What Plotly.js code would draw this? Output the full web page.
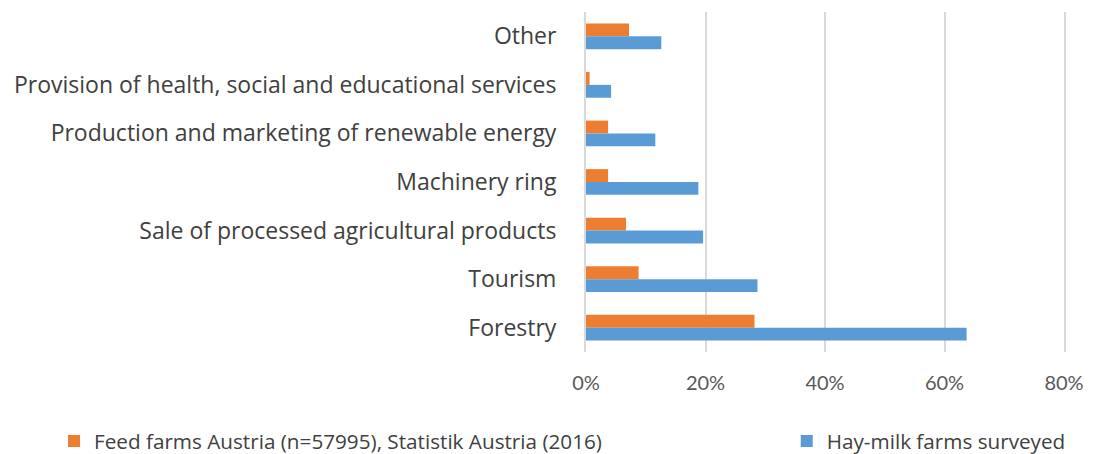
<!DOCTYPE html>
<html>
<head>
<meta charset="utf-8">
<script src="https://cdn.plot.ly/plotly-3.0.1.min.js"></script>
<style>html,body{margin:0;padding:0;background:#fff;}#chart{width:1093px;height:454px;}</style>
</head>
<body>
<div id="chart"></div>
<script>
const categories = [
  "Other",
  "Provision of health, social and educational services",
  "Production and marketing of renewable energy",
  "Machinery ring",
  "Sale of processed agricultural products",
  "Tourism",
  "Forestry"
];
const feedFarmsAustria = [0.072, 0.006, 0.037, 0.037, 0.067, 0.088, 0.282];
const hayMilkFarms = [0.126, 0.042, 0.116, 0.188, 0.196, 0.287, 0.637];
const seriesNames = ["Feed farms Austria (n=57995), Statistik Austria (2016)", "Hay-milk farms surveyed"];
const tickValues = [0, 0.2, 0.4, 0.6, 0.8];
const tickLabels = ["0%", "20%", "40%", "60%", "80%"];

const traces = [
  {type: "bar", orientation: "h", name: seriesNames[0], y: categories, x: feedFarmsAustria,
   marker: {color: "#ED7D31"}, legend: "legend", hoverinfo: "x+y"},
  {type: "bar", orientation: "h", name: seriesNames[1], y: categories, x: hayMilkFarms,
   marker: {color: "#5B9BD5"}, legend: "legend2", hoverinfo: "x+y"}
];

const layout = {
  width: 1093, height: 454,
  margin: {l: 586, r: 29, t: 12, b: 102, autoexpand: false},
  paper_bgcolor: "#fff", plot_bgcolor: "#fff",
  font: {family: "'Open Sans', sans-serif", color: "#404040"},
  barmode: "group", bargap: 0.47, bargroupgap: 0,
  xaxis: {range: [0, 0.8], tickvals: tickValues, ticktext: tickLabels,
    showgrid: true, gridcolor: "#d9d9d9", gridwidth: 2, zeroline: false, showline: false,
    tickfont: {family: "Lato, sans-serif", size: 20, color: "#595959"}, ticks: "", ticklen: 0,
    ticklabelstandoff: 17, automargin: false},
  yaxis: {type: "category", autorange: "reversed", showgrid: false, zeroline: false,
    showline: true, mirror: true, linecolor: "#d9d9d9", linewidth: 2,
    tickfont: {family: "'Open Sans', sans-serif", size: 23, color: "#404040"}, ticks: "",
    ticklabelstandoff: 23, automargin: false},
  showlegend: true,
  legend: {orientation: "h", x: -1.113, xanchor: "left", y: -0.262, yanchor: "middle",
    font: {size: 20.7, color: "#404040"}, bgcolor: "rgba(0,0,0,0)"},
  legend2: {orientation: "h", x: 0.42, xanchor: "left", y: -0.262, yanchor: "middle",
    font: {size: 20.7, color: "#404040"}, bgcolor: "rgba(0,0,0,0)"}
};

Plotly.newPlot("chart", traces, layout, {displayModeBar: false, staticPlot: true});
</script>
</body>
</html>
